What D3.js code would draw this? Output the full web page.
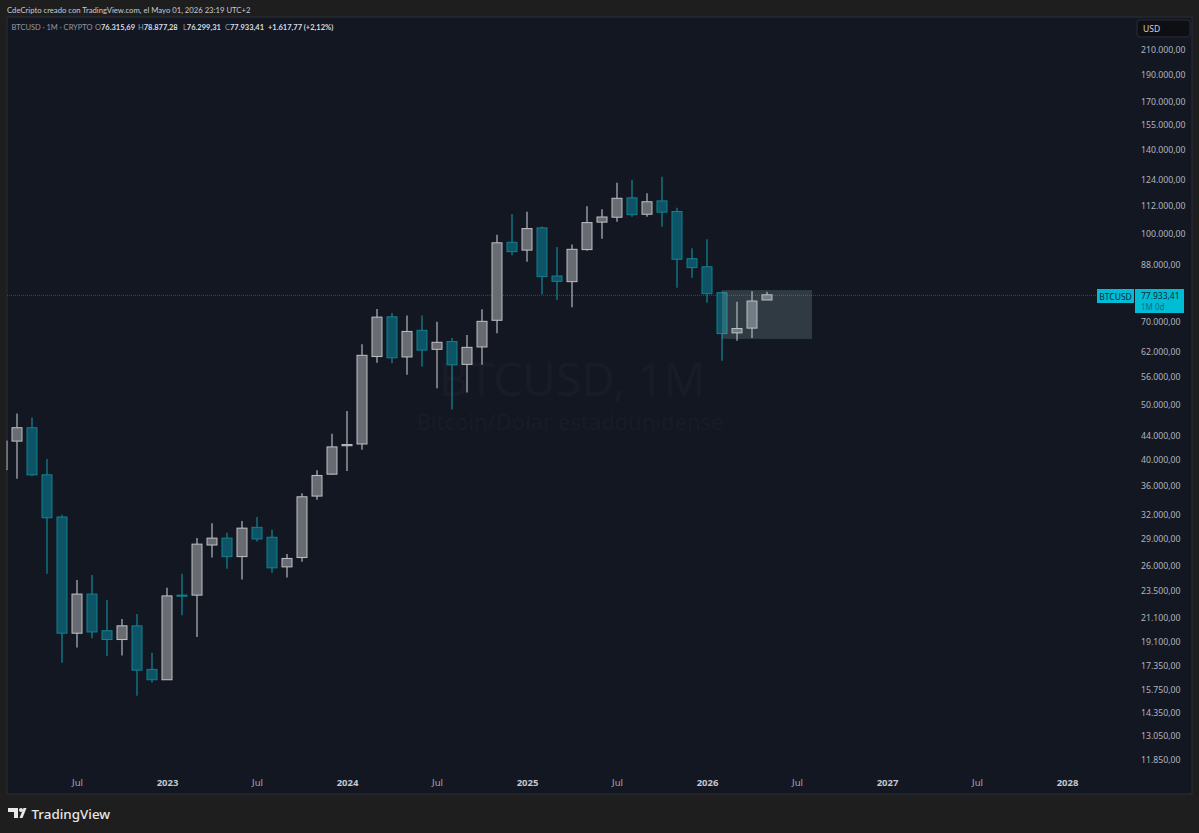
<!DOCTYPE html>
<html>
<head>
<meta charset="utf-8">
<title>BTCUSD 1M</title>
<script src="https://cdn.jsdelivr.net/npm/d3@7"></script>
<style>
  html, body { margin: 0; padding: 0; background: #1e1e1e; }
  svg { display: block; }
  text { font-family: "Noto Sans", sans-serif; }
</style>
</head>
<body>
<div id="chart"></div>
<script>
// monthly candles, values in thousands of USD
var months = ["2022-02","2022-03","2022-04","2022-05","2022-06","2022-07","2022-08","2022-09","2022-10","2022-11","2022-12",
  "2023-01","2023-02","2023-03","2023-04","2023-05","2023-06","2023-07","2023-08","2023-09","2023-10","2023-11","2023-12",
  "2024-01","2024-02","2024-03","2024-04","2024-05","2024-06","2024-07","2024-08","2024-09","2024-10","2024-11","2024-12",
  "2025-01","2025-02","2025-03","2025-04","2025-05","2025-06","2025-07","2025-08","2025-09","2025-10","2025-11","2025-12",
  "2026-01","2026-02","2026-03","2026-04","2026-05"];
var opens = [38.4,43.1,45.5,37.6,31.7,19.8,23.2,20.0,19.3,20.4,17.1,
  16.4,23.1,23.1,28.3,29.1,27.0,30.4,29.2,25.9,26.9,34.5,37.7,
  42.3,42.6,60.7,71.3,60.6,67.5,62.5,64.5,58.8,63.1,70.3,96.4,
  93.4,102.2,84.1,82.2,93.6,104.6,106.7,115.4,108.0,114.0,109.2,90.2,
  87.3,78.6,66.8,68.1,76.31569];
var highs = [45.8,48.2,47.4,40.1,32.0,24.56,25.06,22.65,20.98,21.4,18.3,
  23.8,25.2,29.1,30.9,29.75,31.2,31.7,30.1,27.3,34.9,38.3,44.4,
  48.7,63.8,73.6,72.4,71.7,71.7,69.9,65.4,66.2,73.5,99.4,108.1,
  109.1,102.8,94.6,95.5,111.6,110.2,122.7,124.1,117.6,125.7,110.9,94.1,
  97.6,79.0,75.8,79.1,78.87728];
var lows = [34.3,37.0,37.4,25.2,17.56,18.68,19.4,18.06,18.1,15.37,16.2,
  16.4,21.3,19.5,26.9,25.7,24.6,28.7,25.3,24.8,26.45,34.0,37.6,
  38.2,41.6,59.2,59.1,56.4,58.3,53.4,49.0,52.5,58.7,66.7,91.5,
  89.1,78.0,76.3,74.1,93.2,97.8,104.8,106.9,106.9,102.7,80.2,83.5,
  75.5,59.7,64.7,65.4,76.29931];
var closes = [43.1,45.5,37.6,31.6,19.8,23.2,19.9,19.3,20.4,17.05,16.4,
  23.03,23.0,28.4,29.1,27.0,30.3,29.0,25.8,26.8,34.4,37.5,42.1,
  42.5,61.0,71.2,60.4,67.2,62.3,64.3,58.7,63.0,70.0,96.2,92.8,
  101.9,83.9,82.3,93.7,104.4,106.8,115.2,107.8,113.6,108.9,90.0,87.0,
  78.3,66.6,68.0,76.0,77.93341];

var priceTicks = [210000,190000,170000,155000,140000,124000,112000,100000,88000,70000,62000,56000,50000,
  44000,40000,36000,32000,29000,26000,23500,21100,19100,17350,15750,14350,13050,11850];
var timeTickMonths = ["2022-07","2023-01","2023-07","2024-01","2024-07","2025-01","2025-07","2026-01","2026-07","2027-01","2027-07","2028-01"];
var timeTickLabels = ["Jul","2023","Jul","2024","Jul","2025","Jul","2026","Jul","2027","Jul","2028"];

var lastPrice = 77933.41;
// the grey box drawn on the chart
var boxMonths = ["2026-02","2026-08"];
var boxPrices = [79450,65200];

var svgWidth = 1199, svgHeight = 833;
var plot = { left: 7, top: 17, right: 1192, bottom: 794 };

var upFill = "#696b73", upLine = "#bfc0c4", upWick = "#a9abb0";
var downFill = "#0d5566", downLine = "#13808f", downWick = "#12808f";

function monthNum(s) {
  var p = s.split("-");
  return +p[0] * 12 + (+p[1] - 1);
}

var xScale = d3.scaleLinear()
  .domain([monthNum("2022-02"), monthNum("2028-01")])
  .range([2, 1067]);

var yScale = d3.scaleLog()
  .domain([11850, 210000])
  .range([760, 50]);

var svg = d3.select("#chart").append("svg")
  .attr("width", svgWidth)
  .attr("height", svgHeight);

// panel
svg.append("rect")
  .attr("x", plot.left).attr("y", plot.top)
  .attr("width", plot.right - plot.left).attr("height", plot.bottom - plot.top)
  .attr("fill", "#131722")
  .attr("stroke", "#2a2e39");

svg.append("defs").append("clipPath").attr("id", "plotClip")
  .append("rect")
  .attr("x", plot.left - 0.5).attr("y", plot.top)
  .attr("width", plot.right - plot.left).attr("height", plot.bottom - plot.top);

// watermark
svg.append("text")
  .attr("x", 572).attr("y", 396)
  .attr("text-anchor", "middle")
  .attr("font-size", 46)
  .attr("fill", "#181c27")
  .text("BTCUSD, 1M");
svg.append("text")
  .attr("x", 570).attr("y", 430)
  .attr("text-anchor", "middle")
  .attr("font-size", 22)
  .attr("fill", "#181c27")
  .text("Bitcoin/Dólar estadounidense");

// last price line
svg.append("line")
  .attr("x1", plot.left).attr("x2", 1097)
  .attr("y1", yScale(lastPrice) + 0.5).attr("y2", yScale(lastPrice) + 0.5)
  .attr("stroke", "#1b5a66")
  .attr("stroke-dasharray", "1 1");

var candleGroup = svg.append("g").attr("clip-path", "url(#plotClip)");

var candles = candleGroup.selectAll("g.candle")
  .data(months)
  .enter()
  .append("g")
  .attr("class", "candle");

candles.append("line")
  .attr("x1", d => xScale(monthNum(d))).attr("x2", d => xScale(monthNum(d)))
  .attr("y1", (d, i) => yScale(highs[i] * 1000))
  .attr("y2", (d, i) => yScale(lows[i] * 1000))
  .attr("stroke", (d, i) => closes[i] >= opens[i] ? upWick : downWick)
  .attr("stroke-width", 1.3);

candles.append("rect")
  .attr("x", d => xScale(monthNum(d)) - 5)
  .attr("width", 10)
  .attr("y", (d, i) => yScale(Math.max(opens[i], closes[i]) * 1000))
  .attr("height", (d, i) => Math.abs(yScale(opens[i] * 1000) - yScale(closes[i] * 1000)))
  .attr("fill", (d, i) => closes[i] >= opens[i] ? upFill : downFill)
  .attr("stroke", (d, i) => closes[i] >= opens[i] ? upLine : downLine)
  .attr("stroke-width", 1);

// box on top of the last candles
svg.append("rect")
  .attr("x", xScale(monthNum(boxMonths[0])))
  .attr("width", xScale(monthNum(boxMonths[1])) - xScale(monthNum(boxMonths[0])))
  .attr("y", yScale(boxPrices[0]))
  .attr("height", yScale(boxPrices[1]) - yScale(boxPrices[0]))
  .attr("fill", "rgba(159,198,194,0.2)");

// axes
var esLocale = d3.formatLocale({ decimal: ",", thousands: ".", grouping: [3], currency: ["", ""] });
var priceFormat = esLocale.format(",.2f");

var priceAxis = d3.axisRight(yScale)
  .tickValues(priceTicks)
  .tickFormat(priceFormat)
  .tickSize(0)
  .tickPadding(0);

var priceAxisG = svg.append("g")
  .attr("transform", "translate(1141,0)")
  .call(priceAxis);
priceAxisG.select(".domain").remove();
priceAxisG.selectAll("text")
  .attr("font-size", 8.7)
  .attr("fill", "#b2b5be");

var timeAxis = d3.axisBottom(xScale)
  .tickValues(timeTickMonths.map(monthNum))
  .tickFormat((d, i) => timeTickLabels[i])
  .tickSize(0)
  .tickPadding(0);

var timeAxisG = svg.append("g")
  .attr("transform", "translate(0,779)")
  .call(timeAxis);
timeAxisG.select(".domain").remove();
timeAxisG.selectAll("text")
  .attr("font-size", 9.5)
  .attr("fill", (d, i) => /^\d/.test(timeTickLabels[i]) ? "#c4c7ce" : "#a5a8b0")
  .attr("font-weight", (d, i) => /^\d/.test(timeTickLabels[i]) ? 700 : 400);

// USD button
svg.append("rect")
  .attr("x", 1137).attr("y", 20).attr("width", 53).attr("height", 17).attr("rx", 3)
  .attr("fill", "#0e0f12").attr("stroke", "#2a2e39");
svg.append("text")
  .attr("x", 1143).attr("y", 32)
  .attr("font-size", 8.5).attr("fill", "#d1d4dc")
  .text("USD");

// last price labels
svg.append("rect")
  .attr("x", 1097).attr("y", 289).attr("width", 37).attr("height", 14)
  .attr("fill", "#00bcd4");
svg.append("text")
  .attr("x", 1115.5).attr("y", 299.5)
  .attr("text-anchor", "middle")
  .attr("font-size", 8.5).attr("fill", "#0b2a33")
  .text("BTCUSD");
svg.append("rect")
  .attr("x", 1135).attr("y", 289).attr("width", 49).attr("height", 24)
  .attr("fill", "#00bcd4");
svg.append("text")
  .attr("x", 1141).attr("y", 298.5)
  .attr("font-size", 8.5).attr("fill", "#0b2a33")
  .text(priceFormat(lastPrice));
svg.append("text")
  .attr("x", 1141).attr("y", 309.5)
  .attr("font-size", 8).attr("fill", "#0e6f80")
  .text("1M 0d");

// header
svg.append("text")
  .attr("x", 7).attr("y", 12.5)
  .attr("font-size", 7.7).attr("fill", "#c8cbd2")
  .style("font-family", "Lato, sans-serif")
  .text("CdeCripto creado con TradingView.com, el Mayo 01, 2026 23:19 UTC+2");

svg.append("text")
  .attr("x", 11.5).attr("y", 29.5)
  .attr("font-size", 7.5).attr("fill", "#9598a1")
  .style("font-family", "Lato, sans-serif")
  .text("BTCUSD · 1M · CRYPTO");

var ohlcLabels = ["O", "H", "L", "C"];
var ohlcValues = [76315.69, 78877.28, 76299.31, 77933.41];
var ohlcX = [95, 138, 183, 225];
ohlcLabels.forEach(function(lab, i) {
  var t = svg.append("text")
    .attr("x", ohlcX[i]).attr("y", 29.5)
    .attr("font-size", 7.5).attr("fill", "#9598a1")
    .style("font-family", "Lato, sans-serif");
  t.append("tspan").text(lab);
  t.append("tspan").attr("fill", "#d8dbe2").attr("font-weight", 700).text(priceFormat(ohlcValues[i]));
});
svg.append("text")
  .attr("x", 268).attr("y", 29.5)
  .attr("font-size", 7.5).attr("font-weight", 700).attr("fill", "#d8dbe2")
  .style("font-family", "Lato, sans-serif")
  .text("+1.617,77 (+2,12%)");

// logo
var logo = svg.append("g").attr("transform", "translate(8,808)").attr("fill", "#e8e8e8");
logo.append("path").attr("d", "M0 0H10V10H6V4H0Z");
logo.append("circle").attr("cx", 13).attr("cy", 2).attr("r", 2);
logo.append("path").attr("d", "M18.5 0H15.5L11.5 10H14.5Z");
svg.append("text")
  .attr("x", 31.5).attr("y", 819)
  .attr("font-size", 13.4).attr("font-weight", 500).attr("fill", "#e6e6e6")
  .text("TradingView");
</script>
</body>
</html>
